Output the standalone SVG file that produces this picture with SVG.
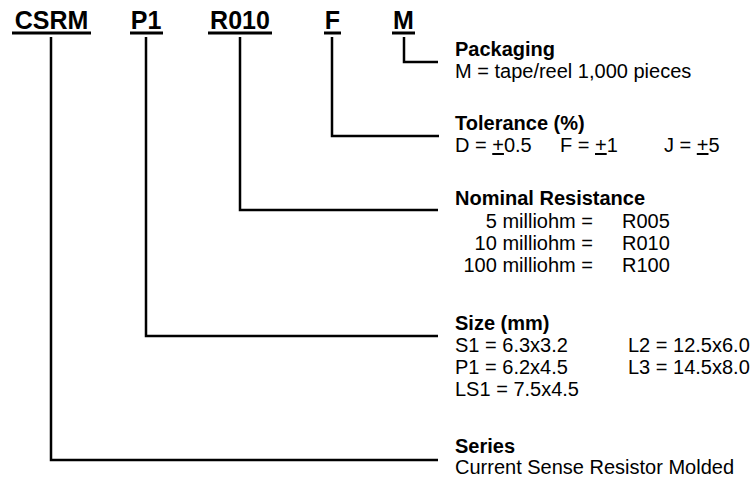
<svg xmlns="http://www.w3.org/2000/svg" width="755" height="483" viewBox="0 0 755 483">
<style>
.code{font-family:"Liberation Sans",Arial,sans-serif;font-weight:bold;font-size:25px;fill:#000;text-anchor:middle}
.ul{stroke:#000;stroke-width:3;fill:none}
.conn{stroke:#000;stroke-width:2.5;fill:none}
.h{font-family:"Liberation Sans",Arial,sans-serif;font-weight:bold;font-size:20px;fill:#000}
.b{font-family:"Liberation Sans",Arial,sans-serif;font-size:20px;fill:#000}
.r{text-anchor:end}
</style>
<rect width="755" height="483" fill="#fff"/>
<g id="code-csrm"><text class="code" x="51.5" y="29">CSRM</text><line class="ul" x1="12" y1="33" x2="91" y2="33"/></g>
<g id="code-p1"><text class="code" x="146" y="29">P1</text><line class="ul" x1="130" y1="33" x2="163" y2="33"/></g>
<g id="code-r010"><text class="code" x="240" y="29">R010</text><line class="ul" x1="208" y1="33" x2="272" y2="33"/></g>
<g id="code-f"><text class="code" x="332.5" y="29">F</text><line class="ul" x1="324" y1="33" x2="341" y2="33"/></g>
<g id="code-m"><text class="code" x="403.5" y="29">M</text><line class="ul" x1="392" y1="33" x2="415" y2="33"/></g>
<g id="connectors">
<polyline class="conn" points="404,37 404,62 438,62"/>
<polyline class="conn" points="332,37 332,136 439,136"/>
<polyline class="conn" points="240,37 240,210 438,210"/>
<polyline class="conn" points="146,37 146,336 438,336"/>
<polyline class="conn" points="51,37 51,460 438,460"/>
</g>
<g id="packaging"><text class="h" x="455" y="56">Packaging</text><text class="b" x="455" y="78">M = tape/reel 1,000 pieces</text></g>
<g id="tolerance"><text class="h" x="455" y="130">Tolerance (%)</text>
<text class="b" x="455" y="152">D = <tspan text-decoration="underline">+</tspan>0.5</text>
<text class="b" x="560" y="152">F = <tspan text-decoration="underline">+</tspan>1</text>
<text class="b" x="664" y="152">J = <tspan text-decoration="underline">+</tspan>5</text></g>
<g id="nominal"><text class="h" x="455" y="205">Nominal Resistance</text>
<text class="b r" x="593" y="228">5 milliohm =</text><text class="b" x="622" y="228">R005</text>
<text class="b r" x="593" y="250">10 milliohm =</text><text class="b" x="622" y="250">R010</text>
<text class="b r" x="593" y="272">100 milliohm =</text><text class="b" x="622" y="272">R100</text></g>
<g id="size"><text class="h" x="455" y="330">Size (mm)</text>
<text class="b" x="455" y="352">S1 = 6.3x3.2</text><text class="b" x="628" y="352">L2 = 12.5x6.0</text>
<text class="b" x="455" y="374">P1 = 6.2x4.5</text><text class="b" x="628" y="374">L3 = 14.5x8.0</text>
<text class="b" x="455" y="396">LS1 = 7.5x4.5</text></g>
<g id="series"><text class="h" x="455" y="453">Series</text><text class="b" x="455" y="474">Current Sense Resistor Molded</text></g>
</svg>
